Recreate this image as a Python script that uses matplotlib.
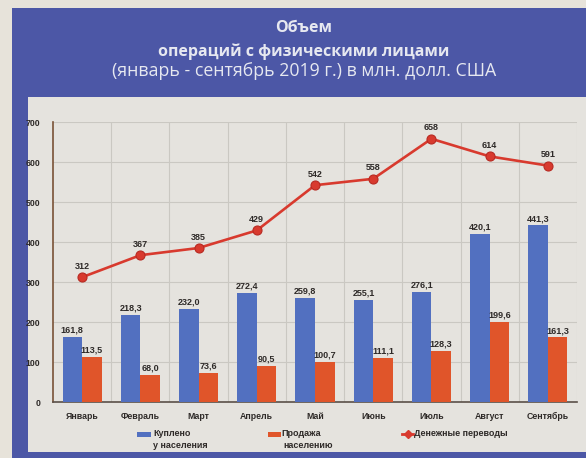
import matplotlib
matplotlib.use("Agg")
import matplotlib.pyplot as plt
from matplotlib.patches import Rectangle
from matplotlib.lines import Line2D
import numpy as np

months = ["Январь", "Февраль", "Март", "Апрель", "Май", "Июнь", "Июль", "Август", "Сентябрь"]
bought = [161.8, 218.3, 232.0, 272.4, 259.8, 255.1, 276.1, 420.1, 441.3]
sold = [113.5, 68.0, 73.6, 90.5, 100.7, 111.1, 128.3, 199.6, 161.3]
transfers = [312, 367, 385, 429, 542, 558, 658, 614, 591]
yticks = [0, 100, 200, 300, 400, 500, 600, 700]
title_lines = ["Объем", "операций с физическими лицами", "(январь - сентябрь 2019 г.) в млн. долл. США"]

W, H = 586, 458
BG = "#e7e3da"
FRAME = "#4c57a6"
PANEL = "#e5e3de"
BLUE = "#5270c0"
ORANGE = "#e0552a"
RED = "#d83a2e"
TXT = "#2e2a28"

narrow = ["Liberation Sans Narrow", "Liberation Sans", "DejaVu Sans"]
tfont = ["Open Sans", "Noto Sans", "DejaVu Sans"]

fig = plt.figure(figsize=(W / 100, H / 100), dpi=100)
fig.patch.set_facecolor(BG)

def px(x0, y0, w, h, color, z=0):
    fig.add_artist(Rectangle((x0 / W, 1 - (y0 + h) / H), w / W, h / H,
                             transform=fig.transFigure, facecolor=color,
                             edgecolor="none", zorder=z))

px(12, 8, W - 12, H - 8, FRAME, 0)
px(28, 97, W - 28, 355, PANEL, 1)

ty = [28, 52, 71]
tsz = [11.5, 11.5, 12.8]
for i, (t, y, s) in enumerate(zip(title_lines, ty, tsz)):
    fig.text(304 / W, 1 - y / H, t, ha="center", va="center",
             fontsize=s, fontweight="bold" if i < 2 else "normal",
             color="#e6e8f0", family=tfont, zorder=3)

ax = fig.add_axes([53 / W, 1 - 402 / H, (577 - 53) / W, 280 / H])
ax.set_facecolor("none")
ax.set_zorder(3)
x = np.arange(len(months))
bw = 0.335
ax.bar(x - bw / 2, bought, bw, color=BLUE, zorder=3)
ax.bar(x + bw / 2, sold, bw, color=ORANGE, zorder=3)
ax.plot(x, transfers, color=RED, lw=1.9, marker="o", ms=6.5,
        markerfacecolor=RED, markeredgecolor="#b82a22", markeredgewidth=0.8, zorder=4)

def fmt(v):
    return f"{v:.1f}".replace(".", ",")

for xi, v in zip(x, bought):
    ax.text(xi - bw / 2, v + 6, fmt(v), ha="center", va="bottom", fontsize=6.5,
            fontweight="bold", color=TXT, family=narrow, zorder=5)
for xi, v in zip(x, sold):
    ax.text(xi + bw / 2, v + 6, fmt(v), ha="center", va="bottom", fontsize=6.5,
            fontweight="bold", color=TXT, family=narrow, zorder=5)
for xi, v in zip(x, transfers):
    ax.text(xi, v + 16, str(v), ha="center", va="bottom", fontsize=6.5,
            fontweight="bold", color=TXT, family=narrow, zorder=5)

ax.set_xlim(-0.5, len(months) - 0.5)
ax.set_ylim(0, 700)
ax.set_yticks(yticks)
ax.set_xticks(x)
ax.set_xticklabels(months)
for lab in ax.get_xticklabels() + ax.get_yticklabels():
    lab.set_fontsize(6.3)
    lab.set_fontweight("bold")
    lab.set_color(TXT)
    lab.set_family(narrow)
ax.tick_params(axis="both", length=0)
ax.tick_params(axis="y", pad=9)
ax.tick_params(axis="x", pad=7)
for yv in yticks[1:]:
    ax.axhline(yv, color="#cac8c2", lw=0.8, zorder=1)
for b in np.arange(0.5, len(months) + 0.5, 1.0):
    ax.axvline(b, color="#cac8c2", lw=0.8, zorder=1)
for s in ["top", "right"]:
    ax.spines[s].set_visible(False)
ax.spines["left"].set_color("#7a5236")
ax.spines["left"].set_linewidth(1.2)
ax.spines["bottom"].set_color("#5a5048")
ax.spines["bottom"].set_linewidth(1.2)

# legend
px(137, 432, 14, 5, BLUE, 4)
fig.text(153 / W, 1 - 434 / H, "Куплено", ha="left", va="center", fontsize=6.5,
         fontweight="bold", color=TXT, family=narrow, zorder=5)
fig.text(153 / W, 1 - 445 / H, "у населения", ha="left", va="center", fontsize=6.5,
         fontweight="bold", color=TXT, family=narrow, zorder=5)
px(268, 432, 13, 5, ORANGE, 4)
fig.text(281 / W, 1 - 434 / H, "Продажа", ha="left", va="center", fontsize=6.5,
         fontweight="bold", color=TXT, family=narrow, zorder=5)
fig.text(283 / W, 1 - 445 / H, "населению", ha="left", va="center", fontsize=6.5,
         fontweight="bold", color=TXT, family=narrow, zorder=5)
fig.add_artist(Line2D([402 / W, 413 / W], [1 - 434 / H, 1 - 434 / H], transform=fig.transFigure,
                      color=RED, lw=2, zorder=5))
fig.add_artist(Line2D([407.5 / W], [1 - 434 / H], transform=fig.transFigure,
                      color=RED, marker="D", ms=4, lw=0, zorder=6))
fig.text(414 / W, 1 - 434 / H, "Денежные переводы", ha="left", va="center", fontsize=6.5,
         fontweight="bold", color=TXT, family=narrow, zorder=5)

fig.savefig("out.png", dpi=100, facecolor=fig.get_facecolor())
